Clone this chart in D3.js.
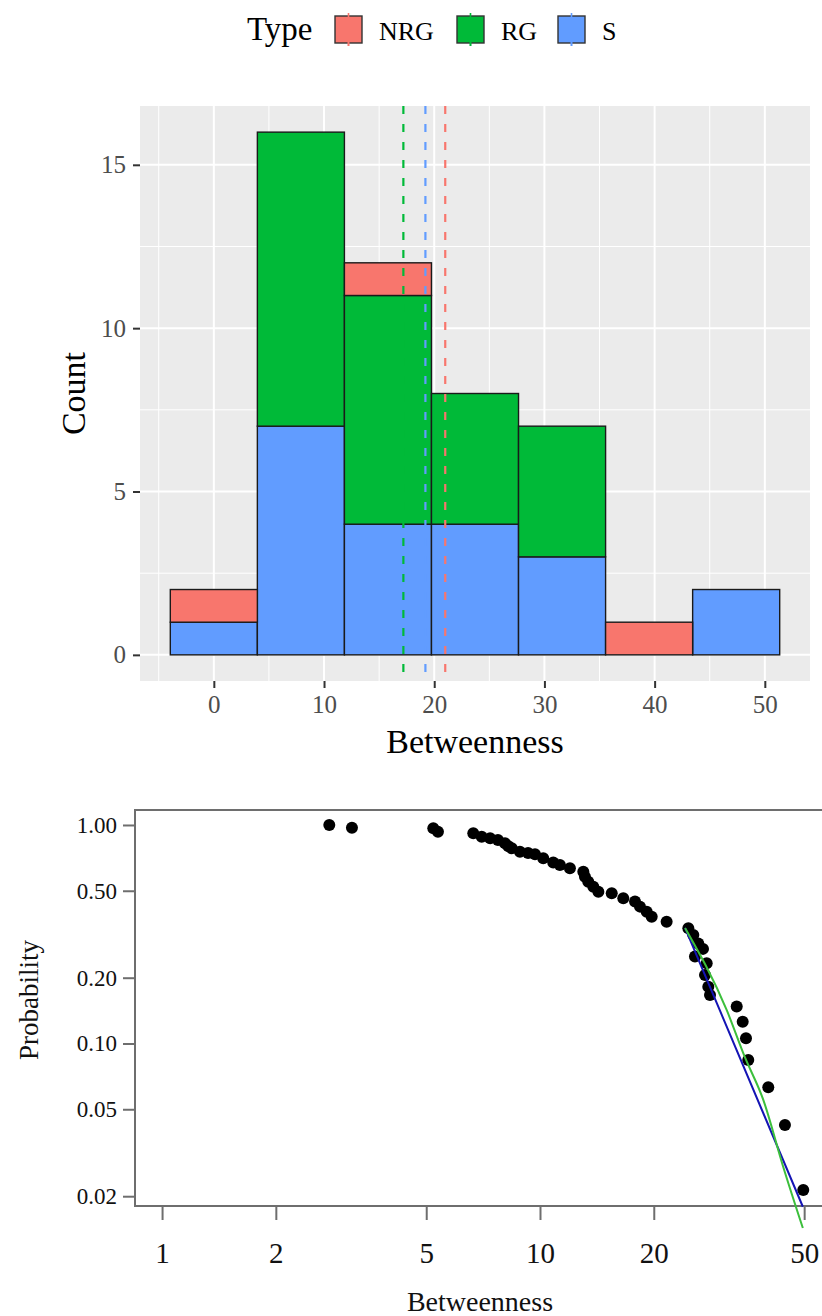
<!DOCTYPE html>
<html>
<head>
<meta charset="utf-8">
<script src="https://cdn.jsdelivr.net/npm/d3@7"></script>
<style>
  html, body { margin: 0; padding: 0; background: #ffffff; }
  svg { display: block; }
  text { font-family: "Liberation Serif", "Times New Roman", serif; }
</style>
</head>
<body>
<svg id="chart" width="822" height="1316"></svg>
<script>
// ---------- Top: stacked histogram data ----------
const types = ["NRG", "RG", "S"];
const typeColors = ["#F8766D", "#00BA38", "#619CFF"];
const binStart = [-3.95, 3.95, 11.85, 19.75, 27.65, 35.55, 43.45];
const binWidth = 7.9;
const countS   = [1, 7, 4, 4, 3, 0, 2];
const countRG  = [0, 9, 7, 4, 4, 0, 0];
const countNRG = [1, 0, 1, 0, 0, 1, 0];
const typeMeans = [21.0, 17.2, 19.2];          // NRG, RG, S
const histXTicks = [0, 10, 20, 30, 40, 50];
const histXMinor = [-5, 5, 15, 25, 35, 45];
const histYTicks = [0, 5, 10, 15];
const histYMinor = [2.5, 7.5, 12.5];

// ---------- Bottom: CCDF on log-log ----------
const ccdfX = [2.77, 3.18, 5.22, 5.37, 6.66, 7.01, 7.38, 7.74, 8.08, 8.25, 8.42, 8.85, 9.3, 9.70, 10.2, 10.84,
  11.29, 12.0, 13.02, 13.15, 13.42, 13.84, 14.27, 15.48, 16.61, 17.84, 18.39, 19.16, 19.75, 21.63, 24.69,
  25.45, 26.23, 27.0, 25.71, 27.61, 27.33, 27.88, 28.17, 33.15, 34.38, 35.08, 35.57, 40.18, 44.48, 49.73];
const ccdfY = [1.0, 0.972, 0.966, 0.932, 0.916, 0.884, 0.869, 0.854, 0.824, 0.80, 0.782, 0.755, 0.745, 0.734,
  0.704, 0.674, 0.656, 0.634, 0.611, 0.580, 0.550, 0.522, 0.495, 0.487, 0.462, 0.446, 0.423, 0.401, 0.380,
  0.361, 0.337, 0.314, 0.287, 0.271, 0.250, 0.233, 0.206, 0.182, 0.1667, 0.1477, 0.1258, 0.1056, 0.0841,
  0.063, 0.0424, 0.02136];
const powerFitX = [24.2, 29.9, 49.6];
const powerFitY = [0.338, 0.142, 0.0179];
const lnormFitX = [24.2, 31.2, 34.8, 39.0, 44.0, 49.6];
const lnormFitY = [0.338, 0.142, 0.087, 0.0551, 0.0273, 0.0143];
const logXTicks = [1, 2, 5, 10, 20, 50];
const logYTicks = [1.00, 0.50, 0.20, 0.10, 0.05, 0.02];

const svg = d3.select("#chart");

// ================= TOP HISTOGRAM =================
const P = { left: 140, right: 810, top: 106, bottom: 681 };
const x = d3.scaleLinear().domain([-6.7, 54.1]).range([P.left, P.right]);
const y = d3.scaleLinear().domain([-0.8, 16.8]).range([P.bottom, P.top]);

const topG = svg.append("g");
topG.append("rect").attr("x", P.left).attr("y", P.top)
  .attr("width", P.right - P.left).attr("height", P.bottom - P.top).attr("fill", "#EBEBEB");

// grid
topG.selectAll(".gxm").data(histXMinor).join("line")
  .attr("x1", d => x(d)).attr("x2", d => x(d)).attr("y1", P.top).attr("y2", P.bottom)
  .attr("stroke", "#fff").attr("stroke-width", 1);
topG.selectAll(".gym").data(histYMinor).join("line")
  .attr("y1", d => y(d)).attr("y2", d => y(d)).attr("x1", P.left).attr("x2", P.right)
  .attr("stroke", "#fff").attr("stroke-width", 1);
topG.selectAll(".gx").data(histXTicks).join("line")
  .attr("x1", d => x(d)).attr("x2", d => x(d)).attr("y1", P.top).attr("y2", P.bottom)
  .attr("stroke", "#fff").attr("stroke-width", 2);
topG.selectAll(".gy").data(histYTicks).join("line")
  .attr("y1", d => y(d)).attr("y2", d => y(d)).attr("x1", P.left).attr("x2", P.right)
  .attr("stroke", "#fff").attr("stroke-width", 2);

// stacked bars (S bottom, RG middle, NRG top)
const rows = binStart.map((b, i) => ({ start: b, S: countS[i], RG: countRG[i], NRG: countNRG[i] }));
const stack = d3.stack().keys(["S", "RG", "NRG"])(rows);
const colorOf = d3.scaleOrdinal().domain(types).range(typeColors);
stack.forEach(layer => {
  topG.append("g").selectAll("rect").data(layer.filter(d => d[1] > d[0])).join("rect")
    .attr("x", d => x(d.data.start))
    .attr("width", d => x(d.data.start + binWidth) - x(d.data.start))
    .attr("y", d => y(d[1]))
    .attr("height", d => y(d[0]) - y(d[1]))
    .attr("fill", colorOf(layer.key))
    .attr("stroke", "#1a1a1a").attr("stroke-width", 1.4);
});

// mean lines
topG.selectAll(".vl").data(types).join("line")
  .attr("x1", (t, i) => x(typeMeans[i])).attr("x2", (t, i) => x(typeMeans[i]))
  .attr("y1", P.top).attr("y2", P.bottom)
  .attr("stroke", t => colorOf(t)).attr("stroke-width", 2.2)
  .attr("stroke-dasharray", "8,10");

// axes
const xAxis = d3.axisBottom(x).tickValues(histXTicks).tickSize(7).tickPadding(7);
const gx = topG.append("g").attr("transform", `translate(0,${P.bottom})`).call(xAxis);
gx.select(".domain").remove();
gx.selectAll(".tick line").attr("stroke", "#333").attr("stroke-width", 2);
gx.selectAll(".tick text").attr("font-size", 25).attr("fill", "#4D4D4D");

const yAxis = d3.axisLeft(y).tickValues(histYTicks).tickSize(7).tickPadding(7);
const gy = topG.append("g").attr("transform", `translate(${P.left},0)`).call(yAxis);
gy.select(".domain").remove();
gy.selectAll(".tick line").attr("stroke", "#333").attr("stroke-width", 2);
gy.selectAll(".tick text").attr("font-size", 25).attr("fill", "#4D4D4D");

topG.append("text").attr("x", (P.left + P.right) / 2).attr("y", 753)
  .attr("text-anchor", "middle").attr("font-size", 34).attr("fill", "#000").text("Betweenness");
topG.append("text").attr("transform", `translate(85,${(P.top + P.bottom) / 2}) rotate(-90)`)
  .attr("text-anchor", "middle").attr("font-size", 34).attr("fill", "#000").text("Count");

// legend
const lg = svg.append("g");
lg.append("text").attr("x", 247).attr("y", 40).attr("font-size", 33).text("Type");
const keyX = [335, 457, 558];
types.forEach((t, i) => {
  lg.append("rect").attr("x", keyX[i]).attr("y", 16).attr("width", 27).attr("height", 27)
    .attr("fill", typeColors[i]).attr("stroke", "#333").attr("stroke-width", 1.4);
  lg.append("line").attr("x1", keyX[i] + 13.5).attr("x2", keyX[i] + 13.5).attr("y1", 13).attr("y2", 46)
    .attr("stroke", typeColors[i]).attr("stroke-width", 1.6).attr("stroke-dasharray", "5,23");
  lg.append("line").attr("x1", keyX[i] + 13.5).attr("x2", keyX[i] + 13.5).attr("y1", 41).attr("y2", 46)
    .attr("stroke", typeColors[i]).attr("stroke-width", 1.6);
  lg.append("text").attr("x", keyX[i] + 44).attr("y", 40).attr("font-size", 26).text(t);
});

// ================= BOTTOM CCDF =================
const B = { left: 135, right: 840, top: 810, bottom: 1206 };
const lx = d3.scaleLog().domain([0.848, 62.2]).range([B.left, B.right]);
const ly = d3.scaleLog().domain([0.01804, 1.171]).range([B.bottom, B.top]);
const bot = svg.append("g");

// frame
bot.append("rect").attr("x", B.left).attr("y", B.top)
  .attr("width", B.right - B.left).attr("height", B.bottom - B.top)
  .attr("fill", "none").attr("stroke", "#6e6e6e").attr("stroke-width", 2);

// points
bot.selectAll("circle").data(ccdfX).join("circle")
  .attr("cx", d => lx(d)).attr("cy", (d, i) => ly(ccdfY[i])).attr("r", 6).attr("fill", "#000");

// fitted lines
const lineGen = d3.line().x(d => lx(d[0])).y(d => ly(d[1]));
bot.append("path").datum(powerFitX.map((v, i) => [v, powerFitY[i]]))
  .attr("d", lineGen).attr("fill", "none").attr("stroke", "#1414b4").attr("stroke-width", 2);
bot.append("path").datum(lnormFitX.map((v, i) => [v, lnormFitY[i]]))
  .attr("d", d3.line().curve(d3.curveMonotoneX).x(d => lx(d[0])).y(d => ly(d[1])))
  .attr("fill", "none").attr("stroke", "#3cbf3c").attr("stroke-width", 2);

// x axis
const bxAxis = d3.axisBottom(lx).tickValues(logXTicks).tickFormat(d3.format("d")).tickSize(14).tickPadding(22);
const bgx = bot.append("g").attr("transform", `translate(0,${B.bottom})`).call(bxAxis);
bgx.select(".domain").remove();
bgx.selectAll(".tick line").attr("stroke", "#6e6e6e").attr("stroke-width", 2);
bgx.selectAll(".tick text").attr("font-size", 29).attr("fill", "#111");

// y axis
const byAxis = d3.axisLeft(ly).tickValues(logYTicks).tickFormat(d3.format(".2f")).tickSize(12).tickPadding(6);
const bgy = bot.append("g").attr("transform", `translate(${B.left},0)`).call(byAxis);
bgy.select(".domain").remove();
bgy.selectAll(".tick line").attr("stroke", "#6e6e6e").attr("stroke-width", 2);
bgy.selectAll(".tick text").attr("font-size", 23).attr("fill", "#111");

bot.append("text").attr("x", 480).attr("y", 1311).attr("text-anchor", "middle")
  .attr("font-size", 28).attr("fill", "#111").text("Betweenness");
bot.append("text").attr("transform", "translate(38,1000) rotate(-90)")
  .attr("text-anchor", "middle").attr("font-size", 27).attr("fill", "#111").text("Probability");
</script>
</body>
</html>
